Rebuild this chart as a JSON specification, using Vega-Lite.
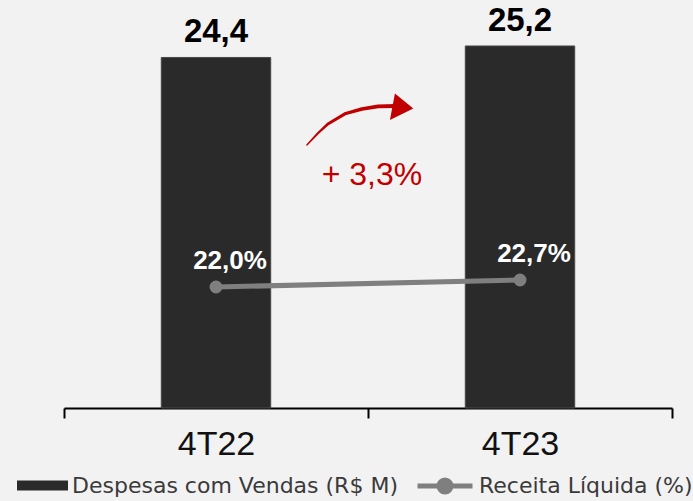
{
  "$schema": "https://vega.github.io/schema/vega-lite/v6.json",
  "width": 608,
  "height": 408,
  "autosize": {"type": "none"},
  "padding": {"left": 64, "top": 0, "right": 21, "bottom": 93},
  "background": "#f2f2f2",
  "config": {
    "view": {"stroke": null},
    "locale": {"number": {"decimal": ",", "thousands": ".", "grouping": [3], "currency": ["R$ ", ""]}}
  },
  "datasets": {
    "tabela": [
      {"periodo": "4T22", "despesas": 24.4, "receita": 0.220},
      {"periodo": "4T23", "despesas": 25.2, "receita": 0.227}
    ],
    "seta": [
      {"ax": 0.799, "ay": 18.31, "w": 1},
      {"ax": 0.836, "ay": 19.14, "w": 3},
      {"ax": 0.868, "ay": 19.77, "w": 4.5},
      {"ax": 0.924, "ay": 20.48, "w": 5.5},
      {"ax": 0.980, "ay": 20.81, "w": 6.5},
      {"ax": 1.033, "ay": 20.99, "w": 7},
      {"ax": 1.089, "ay": 21.02, "w": 7.5}
    ],
    "ponta": [{"ax": 1.105, "ay": 20.95}],
    "nota": [{"ax": 1.013, "ay": 16.2, "txt": "+ 3,3%"}]
  },
  "layer": [
    {
      "data": {"name": "tabela"},
      "encoding": {
        "x": {
          "field": "periodo",
          "type": "nominal",
          "scale": {"type": "band", "domain": ["4T22", "4T23"], "padding": 0},
          "axis": {
            "title": null,
            "labelAngle": 0,
            "labelFont": "Liberation Sans",
            "labelFontSize": 34,
            "labelColor": "#111111",
            "labelPadding": 9,
            "domainColor": "#000000",
            "domainWidth": 2,
            "tickColor": "#000000",
            "tickWidth": 2,
            "tickSize": 10,
            "tickBand": "extent",
            "grid": false
          }
        },
        "y": {"field": "despesas", "type": "quantitative", "scale": {"domain": [0, 28.4], "nice": false}, "axis": null}
      },
      "layer": [
        {
          "mark": {"type": "bar", "width": {"band": 0.36}, "stroke": "#4a4a4a", "strokeWidth": 1},
          "encoding": {
            "fill": {
              "datum": "Despesas com Vendas (R$ M)",
              "scale": {"range": ["#2a2a2a"]},
              "legend": {
                "title": null,
                "orient": "none",
                "legendX": -47,
                "legendY": 460,
                "padding": 0,
                "symbolType": "M-1,-0.2H1V0.2H-1Z",
                "symbolSize": 2601,
                "symbolStrokeWidth": 0,
                "labelFont": "DejaVu Sans",
                "labelFontSize": 22,
                "labelColor": "#3a3a3a",
                "labelOffset": 4,
                "labelLimit": 400
              }
            }
          }
        },
        {
          "mark": {"type": "text", "font": "Liberation Sans", "fontWeight": "bold", "fontSize": 33, "color": "#000000", "dy": -25, "baseline": "middle"},
          "encoding": {
            "text": {"field": "despesas", "type": "quantitative", "format": ".1f"}
          }
        }
      ]
    },
    {
      "data": {"name": "tabela"},
      "encoding": {
        "x": {"field": "periodo", "type": "nominal", "scale": {"type": "band", "domain": ["4T22", "4T23"], "padding": 0}, "axis": null},
        "y": {"field": "receita", "type": "quantitative", "scale": {"domain": [0.099, 0.507], "nice": false, "zero": false}, "axis": null}
      },
      "layer": [
        {
          "mark": {"type": "line", "strokeWidth": 5, "point": {"filled": true, "size": 120, "color": "#7f7f7f"}},
          "encoding": {
            "stroke": {
              "datum": "Receita Líquida (%)",
              "scale": {"range": ["#7f7f7f"]},
              "legend": {
                "title": null,
                "orient": "none",
                "legendX": 351,
                "legendY": 456,
                "padding": 0,
                "symbolType": "M-1,0H1M-0.22,0A0.22,0.22,0,1,1,0.22,0A0.22,0.22,0,1,1,-0.22,0Z",
                "symbolSize": 3025,
                "symbolStrokeWidth": 5,
                "symbolFillColor": "#7f7f7f",
                "labelFont": "DejaVu Sans",
                "labelFontSize": 22,
                "labelColor": "#3a3a3a",
                "labelOffset": 4,
                "labelLimit": 400
              }
            }
          }
        },
        {
          "mark": {"type": "text", "font": "Liberation Sans", "fontWeight": "bold", "fontSize": 26, "color": "#ffffff", "dx": 14, "dy": -26, "baseline": "middle"},
          "encoding": {
            "text": {"field": "receita", "type": "quantitative", "format": ".1%"}
          }
        }
      ]
    },
    {
      "encoding": {
        "x": {"field": "ax", "type": "quantitative", "scale": {"domain": [0, 2], "nice": false, "zero": false}, "axis": null},
        "y": {"field": "ay", "type": "quantitative", "scale": {"domain": [0, 28.4], "nice": false}, "axis": null}
      },
      "layer": [
        {
          "data": {"name": "seta"},
          "mark": {"type": "trail", "color": "#c00000"},
          "encoding": {
            "size": {"field": "w", "type": "quantitative", "scale": {"type": "identity"}, "legend": null}
          }
        },
        {
          "data": {"name": "ponta"},
          "mark": {"type": "point", "filled": true, "opacity": 1, "color": "#c00000", "size": 729, "shape": "M-0.37,-1.01L0.99,0.1L-0.74,0.96Z"}
        },
        {
          "data": {"name": "nota"},
          "mark": {"type": "text", "font": "Liberation Sans", "fontSize": 32, "color": "#c00000", "baseline": "middle"},
          "encoding": {"text": {"field": "txt"}}
        }
      ]
    }
  ],
  "resolve": {"scale": {"x": "independent", "y": "independent"}}
}
